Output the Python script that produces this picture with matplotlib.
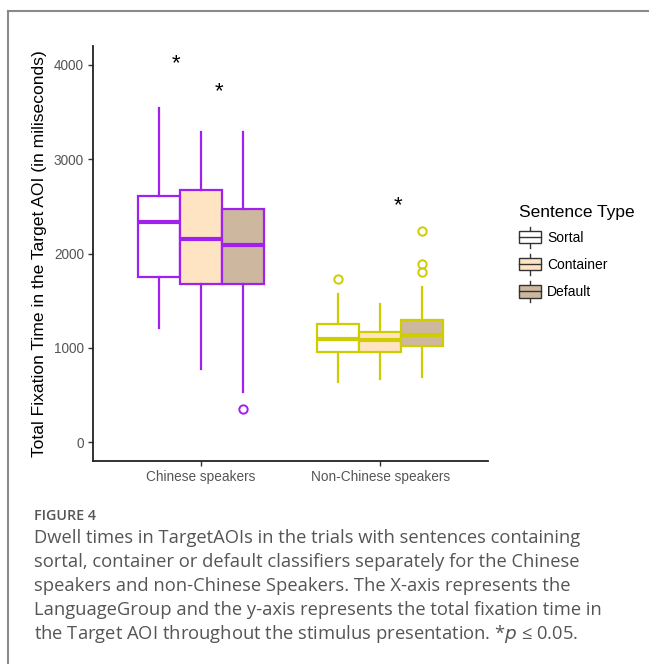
import matplotlib
matplotlib.use("Agg")
import matplotlib.pyplot as plt
from matplotlib.legend_handler import HandlerBase
from matplotlib.patches import Rectangle, Patch
from matplotlib.lines import Line2D

# ---------------- data ----------------
groups = ["Chinese speakers", "Non-Chinese speakers"]
types = ["Sortal", "Container", "Default"]

# per group, per sentence type
chinese_whislo = [1206, 771, 530]
chinese_q1 = [1746, 1672, 1672]
chinese_med = [2333, 2156, 2086]
chinese_q3 = [2609, 2669, 2468]
chinese_whishi = [3539, 3284, 3284]
chinese_fliers = [[], [], [350]]

nonchinese_whislo = [633, 665, 689]
nonchinese_q1 = [954, 954, 1021]
nonchinese_med = [1089, 1085, 1138]
nonchinese_q3 = [1248, 1170, 1290]
nonchinese_whishi = [1569, 1467, 1647]
nonchinese_fliers = [[1725], [], [2237, 1887, 1800]]

star_x = [0.86, 1.10, 2.10]
star_y = [4010, 3715, 2505]

y_ticks = [0, 1000, 2000, 3000, 4000]

group_colors = ["#A020F0", "#CDCD00"]
type_fills = ["#FFFFFF", "#FFE4C4", "#CDB79E"]

caption_title = "FIGURE 4"
caption_lines = [
    "Dwell times in TargetAOIs in the trials with sentences containing",
    "sortal, container or default classifiers separately for the Chinese",
    "speakers and non-Chinese Speakers. The X-axis represents the",
    "LanguageGroup and the y-axis represents the total fixation time in",
    "the Target AOI throughout the stimulus presentation. *$p$ \u2264 0.05.",
]

# ---------------- figure ----------------
W, H = 649, 664
fig = plt.figure(figsize=(W / 100, H / 100), dpi=100)
plt.rcParams["font.family"] = ["Liberation Sans", "DejaVu Sans"]

ax = fig.add_axes([93 / W, 1 - 461 / H, (488 - 93) / W, (461 - 46) / H])

box_w = 0.2333
offsets = [-box_w, 0.0, box_w]

all_stats = [
    (chinese_whislo, chinese_q1, chinese_med, chinese_q3, chinese_whishi, chinese_fliers),
    (nonchinese_whislo, nonchinese_q1, nonchinese_med, nonchinese_q3, nonchinese_whishi, nonchinese_fliers),
]

for gi, (wl, q1, med, q3, wh, fl) in enumerate(all_stats):
    col = group_colors[gi]
    for ti in range(3):
        st = [dict(whislo=wl[ti], q1=q1[ti], med=med[ti], q3=q3[ti],
                   whishi=wh[ti], fliers=fl[ti])]
        ax.bxp(st, positions=[gi + 1 + offsets[ti]], widths=box_w,
               patch_artist=True, showcaps=False,
               boxprops=dict(facecolor=type_fills[ti], edgecolor=col, linewidth=1.6),
               whiskerprops=dict(color=col, linewidth=1.6),
               medianprops=dict(color=col, linewidth=3),
               flierprops=dict(marker="o", markersize=6, markerfacecolor="none",
                               markeredgecolor=col, markeredgewidth=1.4),
               manage_ticks=False)

for sx, sy in zip(star_x, star_y):
    ax.text(sx, sy, "*", ha="center", va="center", fontsize=16, color="black")

ax.set_xlim(0.4, 2.6)
ax.set_ylim(-200, 4200)
ax.set_xticks([1, 2])
ax.set_xticklabels(groups)
ax.set_yticks(y_ticks)
ax.set_yticklabels([str(v) for v in y_ticks])
for s in ["top", "right"]:
    ax.spines[s].set_visible(False)
for s in ["left", "bottom"]:
    ax.spines[s].set_linewidth(1.3)
    ax.spines[s].set_color("#222222")
ax.tick_params(axis="both", length=3.5, width=1.0, color="#333333",
               labelsize=9.8, labelcolor="#555555", pad=3)
ax.set_ylabel("Total Fixation Time in the Target AOI (in miliseconds)",
              fontsize=12.6, color="black", labelpad=5)


# ---------------- legend ----------------
class BoxKeyHandler(HandlerBase):
    def create_artists(self, legend, orig_handle, xdescent, ydescent,
                       width, height, fontsize, trans):
        x0, y0 = -xdescent, -ydescent
        ec = "#333333"
        cx = x0 + width / 2
        artists = [
            Line2D([cx, cx], [y0 - 0.35 * height, y0 + 1.35 * height], color=ec, lw=1.0),
            Rectangle((x0, y0), width, height, facecolor=orig_handle.get_facecolor(),
                      edgecolor=ec, lw=1.0),
            Line2D([x0, x0 + width], [y0 + height / 2, y0 + height / 2], color=ec, lw=1.0),
        ]
        for a in artists:
            a.set_transform(trans)
        return artists


handles = [Patch(facecolor=c) for c in type_fills]
leg = fig.legend(handles, types, handler_map={Patch: BoxKeyHandler()},
                 title="Sentence Type", loc="upper left",
                 bbox_to_anchor=(509 / W, 1 - 195 / H), frameon=False,
                 fontsize=10, title_fontsize=12.5, handlelength=1.6,
                 handleheight=1.0, labelspacing=0.95, handletextpad=0.45,
                 alignment="left", borderpad=0.2)
leg._legend_box.sep = 8

# ---------------- caption & frame ----------------
fig.add_artist(Line2D([8 / W, 1.0], [1 - 11 / H, 1 - 11 / H], color="#8a8a8a", lw=1.5,
                      transform=fig.transFigure))
fig.add_artist(Line2D([8 / W, 8 / W], [1 - 11 / H, 0.0], color="#8a8a8a", lw=1.5,
                      transform=fig.transFigure))

fig.text(34 / W, 1 - 516 / H, caption_title, fontsize=10.3, color="#555555",
         family=["Open Sans", "DejaVu Sans"], fontweight="semibold",
         va="center", ha="left")
for i, line in enumerate(caption_lines):
    fig.text(34 / W, 1 - (538 + 24 * i) / H, line, fontsize=13.2, color="#555555",
             family=["Open Sans", "DejaVu Sans"], va="center", ha="left")

fig.savefig("out.png", dpi=100)
